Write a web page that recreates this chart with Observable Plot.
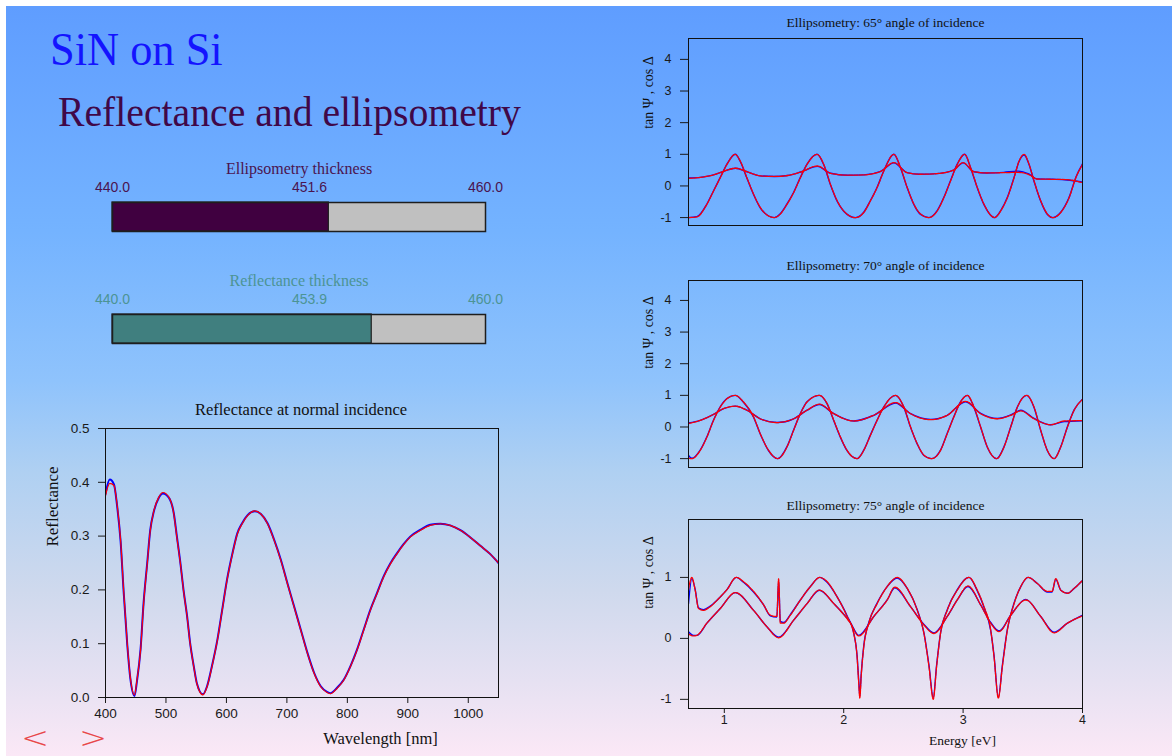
<!DOCTYPE html>
<html>
<head>
<meta charset="utf-8">
<script src="https://cdn.jsdelivr.net/npm/d3@7"></script>
<script src="https://cdn.jsdelivr.net/npm/@observablehq/plot@0.6"></script>
<style>
html,body{margin:0;padding:0;background:#fff;}
#page{position:relative;width:1172px;height:756px;overflow:hidden;background:#fff;}
#bg{position:absolute;left:6px;top:6px;right:0;bottom:0;
  background:linear-gradient(to bottom,#5f9dff 0%,#74b3ff 30%,#8fc3fc 50%,#afd0f2 62%,#cfd9ed 78%,#e6e1f2 90%,#fbe8f6 100%);}
.abs{position:absolute;}
.abs svg{overflow:visible;}
.arrow{position:absolute;font:200 30px/30px 'DejaVu Sans';color:#e8484a;transform:scaleX(1.12);transform-origin:left top;}
</style>
</head>
<body>
<div id="page">
  <div id="bg"></div>
  <div class="abs" style="left:50px;top:27px;font:46px/1 'Liberation Serif';color:#1414ff;transform:scaleX(0.965);transform-origin:left top;white-space:nowrap">SiN on Si</div>
  <div class="abs" style="left:58px;top:91px;font:42px/1 'Liberation Serif';color:#400848;transform:scaleX(0.945);transform-origin:left top;white-space:nowrap">Reflectance and ellipsometry</div>
  <div class="abs" id="thickE" style="left:60px;top:150px"></div>
  <div class="abs" id="thickR" style="left:60px;top:262px"></div>
  <div class="abs" id="refl" style="left:20px;top:395px"></div>
  <div class="abs" id="e65" style="left:620px;top:8px"></div>
  <div class="abs" id="e70" style="left:620px;top:250px"></div>
  <div class="abs" id="e75" style="left:620px;top:490px"></div>
  <div class="arrow" style="left:21px;top:723px">&lt;</div>
  <div class="arrow" style="left:79px;top:723px">&gt;</div>
</div>
<script>
// ---------- data ----------
const thicknessRange = [440, 460];
const ellipsometryThickness = 451.6;
const reflectanceThickness = 453.9;

const reflWavelength = [400,407,414,419,425,430,436,441,448,452,458,463,469,474,480,488,495,505,513,518,524,529,535,540,546,551,561,568,576,585,593,601,610,618,626,635,647,657,668,679,690,701,712,723,734,745,756,767,772,783,794,805,816,827,838,849,860,871,882,893,904,921,937,954,970,987,1003,1020,1036,1050];
const reflFit = [.375,.398,.394,.360,.292,.199,.100,.038,.005,.032,.088,.174,.248,.310,.347,.372,.381,.372,.341,.298,.248,.199,.150,.100,.057,.026,.005,.020,.057,.106,.162,.218,.267,.304,.323,.338,.347,.341,.323,.292,.255,.211,.168,.125,.082,.045,.020,.009,.007,.017,.032,.057,.088,.125,.162,.193,.224,.248,.267,.284,.298,.311,.320,.323,.320,.311,.298,.282,.267,.250];
const reflMeasured = [.378,.405,.396,.358,.290,.197,.098,.036,.003,.030,.090,.176,.250,.311,.346,.371,.379,.371,.342,.300,.249,.200,.151,.101,.058,.027,.006,.021,.058,.107,.163,.219,.268,.305,.324,.339,.346,.341,.324,.293,.256,.212,.169,.126,.083,.046,.021,.010,.008,.018,.033,.058,.089,.126,.163,.194,.225,.249,.268,.285,.299,.312,.321,.323,.320,.311,.298,.282,.267,.250];

// 65 degrees
const e65CosEnergy = [0.70,0.77,0.854,0.91,0.966,1.022,1.092,1.133,1.189,1.245,1.301,1.371,1.419,1.469,1.525,1.581,1.637,1.693,1.777,1.833,1.889,1.945,2.0,2.098,2.168,2.224,2.28,2.336,2.42,2.476,2.532,2.588,2.644,2.714,2.783,2.839,2.895,2.951,3.013,3.063,3.119,3.175,3.264,3.315,3.371,3.427,3.469,3.511,3.553,3.594,3.65,3.706,3.751,3.818,3.888,3.944,4.0];
const e65CosFit = [-1,-0.98,-0.58,-0.16,0.26,0.68,1.0,0.79,0.26,-0.26,-0.68,-0.95,-1,-0.89,-0.58,-0.21,0.26,0.68,1.0,0.68,0.05,-0.47,-0.79,-1,-0.84,-0.47,-0.05,0.47,1.0,0.58,-0.05,-0.58,-0.89,-1,-0.79,-0.37,0.16,0.68,1.0,0.58,-0.05,-0.58,-1,-0.79,-0.37,0.26,0.79,1.0,0.68,0.16,-0.47,-0.89,-1,-0.84,-0.37,0.26,0.68];
const e65CosMeasured = [-1,-0.97,-0.57,-0.15,0.27,0.69,1.0,0.78,0.25,-0.27,-0.69,-0.95,-1,-0.88,-0.57,-0.2,0.27,0.69,1.0,0.67,0.04,-0.48,-0.8,-1,-0.83,-0.46,-0.04,0.48,1.0,0.57,-0.06,-0.59,-0.9,-1,-0.78,-0.36,0.17,0.69,1.0,0.57,-0.06,-0.59,-1,-0.78,-0.36,0.27,0.78,0.98,0.67,0.15,-0.48,-0.9,-1,-0.83,-0.36,0.27,0.70];
const e65TanEnergy = [0.70,0.80,0.91,1.00,1.094,1.19,1.30,1.42,1.53,1.64,1.78,1.89,2.03,2.17,2.31,2.42,2.53,2.64,2.78,2.92,3.00,3.09,3.20,3.34,3.46,3.55,3.62,3.75,3.87,4.0];
const e65TanFit = [0.24,0.27,0.35,0.47,0.56,0.45,0.32,0.30,0.33,0.44,0.63,0.40,0.34,0.35,0.46,0.74,0.42,0.37,0.39,0.50,0.74,0.45,0.41,0.42,0.43,0.36,0.22,0.21,0.20,0.10];
const e65TanMeasured = [0.25,0.27,0.35,0.47,0.56,0.45,0.32,0.30,0.33,0.44,0.62,0.40,0.34,0.35,0.46,0.73,0.42,0.37,0.39,0.50,0.73,0.45,0.41,0.43,0.47,0.38,0.22,0.21,0.19,0.12];

// 70 degrees
const e70CosEnergy = [0.70,0.728,0.798,0.854,0.91,0.966,1.022,1.092,1.161,1.245,1.301,1.371,1.447,1.525,1.581,1.637,1.693,1.796,1.861,1.917,1.973,2.028,2.112,2.168,2.224,2.28,2.336,2.434,2.504,2.56,2.616,2.672,2.736,2.811,2.867,2.923,2.979,3.035,3.091,3.147,3.203,3.281,3.343,3.399,3.455,3.533,3.594,3.65,3.706,3.762,3.818,3.874,3.93,4.0];
const e70CosFit = [-0.98,-1,-0.74,-0.32,0.21,0.63,0.89,1.0,0.79,0.32,-0.21,-0.74,-1,-0.63,-0.1,0.42,0.79,1.0,0.74,0.21,-0.32,-0.74,-1,-0.74,-0.26,0.21,0.63,1.0,0.63,0,-0.53,-0.89,-1,-0.74,-0.21,0.32,0.79,1.0,0.63,0,-0.63,-1,-0.63,0,0.63,1.0,0.63,-0.1,-0.74,-1,-0.63,0,0.53,0.87];
const e70CosMeasured = [-0.9,-0.99,-0.73,-0.31,0.22,0.64,0.9,1.0,0.78,0.31,-0.22,-0.75,-1,-0.62,-0.09,0.43,0.8,1.0,0.73,0.2,-0.33,-0.75,-1,-0.73,-0.25,0.22,0.64,1.0,0.62,-0.01,-0.54,-0.9,-1,-0.73,-0.2,0.33,0.8,1.0,0.62,-0.01,-0.64,-1,-0.62,0.01,0.64,1.0,0.62,-0.11,-0.75,-1,-0.62,0.01,0.54,0.88];
const e70TanEnergy = [0.70,0.798,0.91,0.994,1.092,1.189,1.301,1.441,1.581,1.693,1.796,1.917,2.084,2.252,2.434,2.56,2.728,2.867,3.021,3.147,3.287,3.399,3.483,3.594,3.734,3.846,4.0];
const e70TanFit = [0.11,0.21,0.40,0.58,0.66,0.53,0.26,0.14,0.26,0.53,0.72,0.42,0.19,0.37,0.77,0.42,0.23,0.37,0.81,0.42,0.26,0.37,0.51,0.26,0.07,0.19,0.20];
const e70TanMeasured = [0.13,0.21,0.40,0.58,0.66,0.53,0.26,0.14,0.26,0.53,0.71,0.42,0.19,0.37,0.76,0.42,0.24,0.37,0.80,0.43,0.27,0.38,0.53,0.27,0.07,0.17,0.20];

// 75 degrees
const e75UpperEnergy = [0.70,0.728,0.756,0.784,0.826,0.882,0.966,1.022,1.10,1.161,1.245,1.329,1.385,1.44,1.455,1.469,1.497,1.553,1.637,1.721,1.799,1.861,1.945,2.028,2.084,2.112,2.126,2.135,2.146,2.168,2.21,2.28,2.364,2.448,2.532,2.616,2.672,2.714,2.75,2.778,2.811,2.867,2.951,3.049,3.119,3.175,3.231,3.259,3.295,3.329,3.371,3.427,3.483,3.544,3.622,3.706,3.745,3.776,3.818,3.874,3.93,4.0];
const e75UpperFit = [0.80,1.0,0.79,0.49,0.46,0.52,0.68,0.80,1.0,0.93,0.77,0.55,0.38,0.36,0.98,0.25,0.25,0.38,0.63,0.85,1.0,0.93,0.68,0.36,0.08,-0.3,-0.74,-0.98,-0.63,-0.14,0.25,0.57,0.85,1.0,0.82,0.46,0.08,-0.46,-1.0,-0.46,0.08,0.46,0.79,1.0,0.79,0.52,0.14,-0.3,-0.98,-0.46,0.14,0.57,0.85,1.0,0.9,0.77,0.77,0.98,0.79,0.74,0.82,0.95];
const e75UpperMeasured = [0.57,0.98,0.80,0.50,0.47,0.53,0.68,0.80,1.0,0.92,0.76,0.55,0.37,0.35,0.95,0.28,0.26,0.39,0.63,0.85,1.0,0.92,0.68,0.37,0.09,-0.28,-0.7,-0.95,-0.6,-0.12,0.26,0.58,0.85,0.99,0.82,0.47,0.09,-0.44,-0.97,-0.44,0.09,0.47,0.8,1.0,0.78,0.51,0.13,-0.28,-0.97,-0.44,0.15,0.58,0.85,1.0,0.9,0.76,0.76,0.97,0.79,0.74,0.82,0.95];
const e75LowerEnergy = [0.70,0.742,0.77,0.854,0.966,1.092,1.245,1.357,1.455,1.581,1.693,1.796,1.917,2.056,2.126,2.252,2.364,2.428,2.56,2.672,2.755,2.867,2.951,3.041,3.147,3.231,3.301,3.399,3.525,3.65,3.762,3.874,4.0];
const e75LowerFit = [0.07,0.04,0.05,0.25,0.49,0.75,0.46,0.19,0.01,0.30,0.57,0.79,0.57,0.25,0.04,0.36,0.63,0.84,0.52,0.22,0.08,0.36,0.63,0.86,0.55,0.25,0.11,0.38,0.63,0.36,0.09,0.25,0.37];
const e75LowerMeasured = [0.11,0.05,0.05,0.25,0.49,0.75,0.46,0.19,0.02,0.30,0.57,0.79,0.57,0.26,0.05,0.36,0.63,0.83,0.52,0.23,0.09,0.36,0.63,0.85,0.55,0.26,0.12,0.38,0.64,0.36,0.10,0.25,0.38];

// ---------- helpers ----------
const rows = (xs, ys) => xs.map((x, i) => ({x, y: ys[i]}));
const fmtTick = d => (d < 0 ? "-" + Math.abs(d) : String(d));
const BLUE = "#0000ff", RED = "#ff0000";
const label = (txt, opts) => Plot.text([txt], {text: d => d, textAnchor: "middle", lineAnchor: "middle", fill: "#111", ...opts});

function thicknessPanel(el, {title, value, fillColor, labelColor, titleColor}) {
  const [lo, hi] = thicknessRange;
  const chart = Plot.plot({
    width: 480, height: 90,
    marginLeft: 52, marginRight: 55, marginTop: 52, marginBottom: 9,
    style: {background: "transparent", overflow: "visible"},
    x: {domain: thicknessRange, axis: null},
    marks: [
      Plot.barX([{a: lo, b: hi}], {x1: "a", x2: "b", fill: "#c0c0c0"}),
      Plot.barX([{a: lo, b: value}], {x1: "a", x2: "b", fill: fillColor, stroke: "#1e1e1e", strokeWidth: 1.2}),
      Plot.frame({stroke: "#1e1e1e", strokeWidth: 1.5}),
      label(title, {frameAnchor: "top", dy: -34, fill: titleColor, fontFamily: "Liberation Serif", fontSize: 16}),
      Plot.text([lo, hi], {x: d => d, frameAnchor: "top", text: d => d.toFixed(1), textAnchor: "middle", lineAnchor: "middle", dy: -15, fill: labelColor, fontFamily: "Liberation Sans", fontSize: 14}),
      Plot.text([value], {frameAnchor: "top", text: d => d.toFixed(1), textAnchor: "middle", lineAnchor: "middle", dx: 10.5, dy: -15, fill: labelColor, fontFamily: "Liberation Sans", fontSize: 14})
    ]
  });
  document.getElementById(el).appendChild(chart);
}

thicknessPanel("thickE", {title: "Ellipsometry thickness", value: ellipsometryThickness, fillColor: "#400040", labelColor: "#4a1450", titleColor: "#4a1450"});
thicknessPanel("thickR", {title: "Reflectance thickness", value: reflectanceThickness, fillColor: "#407f7f", labelColor: "#4c9494", titleColor: "#4c9494"});

// Reflectance plot
{
  const chart = Plot.plot({
    width: 500, height: 360,
    marginLeft: 85, marginRight: 22, marginTop: 33, marginBottom: 58,
    style: {background: "transparent", overflow: "visible", fontFamily: "Liberation Sans", fontSize: "13.5px", color: "#1a1a1a"},
    x: {domain: [400, 1050], ticks: [400, 500, 600, 700, 800, 900, 1000], tickFormat: d => String(d), tickSize: 6, tickPadding: 5, label: null},
    y: {domain: [0, 0.5], ticks: [0, 0.1, 0.2, 0.3, 0.4, 0.5], tickFormat: d3.format(".1f"), tickSize: 7, tickPadding: 9, label: null},
    marks: [
      Plot.lineY(rows(reflWavelength, reflMeasured), {x: "x", y: "y", stroke: BLUE, strokeWidth: 2, curve: "monotone-x", clip: true}),
      Plot.lineY(rows(reflWavelength, reflFit), {x: "x", y: "y", stroke: RED, strokeWidth: 1.2, curve: "monotone-x", clip: true}),
      Plot.frame({stroke: "#111"}),
      label("Reflectance at normal incidence", {frameAnchor: "top", dx: -1, dy: -19, fontFamily: "Liberation Serif", fontSize: 16.5}),
      label("Reflectance", {frameAnchor: "left", dx: -53, dy: -56.5, rotate: -90, fontFamily: "Liberation Serif", fontSize: 17}),
      label("Wavelength [nm]", {frameAnchor: "bottom", dx: 78.5, dy: 41, fontFamily: "Liberation Serif", fontSize: 16.5})
    ]
  });
  document.getElementById("refl").appendChild(chart);
}

// Ellipsometry panels
function ellipPanel(el, {title, cosE, cosFit, cosMeas, tanE, tanFit, tanMeas, yDomain, yTicks, height, mt, mb, xAxis, titleDy, labelDy}) {
  const marks = [
    Plot.lineY(rows(tanE, tanMeas), {x: "x", y: "y", stroke: BLUE, strokeWidth: 1.4, curve: "monotone-x", clip: true}),
    Plot.lineY(rows(cosE, cosMeas), {x: "x", y: "y", stroke: BLUE, strokeWidth: 1.4, curve: "monotone-x", clip: true}),
    Plot.lineY(rows(tanE, tanFit), {x: "x", y: "y", stroke: RED, strokeWidth: 1.3, strokeDasharray: "4,1.2", curve: "monotone-x", clip: true}),
    Plot.lineY(rows(cosE, cosFit), {x: "x", y: "y", stroke: RED, strokeWidth: 1.3, strokeDasharray: "4,1.2", curve: "monotone-x", clip: true}),
    Plot.frame({stroke: "#111"}),
    label(title, {frameAnchor: "top", dy: titleDy, fontFamily: "Liberation Serif", fontSize: 13.5}),
    label("tan Ψ , cos Δ", {frameAnchor: "left", dx: -40, dy: labelDy, rotate: -90, fontFamily: "Liberation Serif", fontSize: 14})
  ];
  if (xAxis) marks.push(label("Energy [eV]", {frameAnchor: "bottom", dx: 77, dy: 32, fontFamily: "Liberation Serif", fontSize: 13.5}));
  const chart = Plot.plot({
    width: 480, height,
    marginLeft: 68, marginRight: 18, marginTop: mt, marginBottom: mb,
    style: {background: "transparent", overflow: "visible", fontFamily: "Liberation Sans", fontSize: "12.5px", color: "#1a1a1a"},
    x: xAxis ? {domain: [0.7, 4], ticks: [1, 2, 3, 4], tickFormat: d => String(d), tickSize: 5, tickPadding: 2, label: null} : {domain: [0.7, 4], axis: null},
    y: {domain: yDomain, ticks: yTicks, tickFormat: fmtTick, tickSize: 8, tickPadding: 9, label: null},
    marks
  });
  document.getElementById(el).appendChild(chart);
}

ellipPanel("e65", {title: "Ellipsometry: 65° angle of incidence", cosE: e65CosEnergy, cosFit: e65CosFit, cosMeas: e65CosMeasured, tanE: e65TanEnergy, tanFit: e65TanFit, tanMeas: e65TanMeasured,
  yDomain: [-1.25, 4.66], yTicks: [-1, 0, 1, 2, 3, 4], height: 232, mt: 30, mb: 15, xAxis: false, titleDy: -16, labelDy: -39.5});
ellipPanel("e70", {title: "Ellipsometry: 70° angle of incidence", cosE: e70CosEnergy, cosFit: e70CosFit, cosMeas: e70CosMeasured, tanE: e70TanEnergy, tanFit: e70TanFit, tanMeas: e70TanMeasured,
  yDomain: [-1.28, 4.63], yTicks: [-1, 0, 1, 2, 3, 4], height: 232, mt: 30, mb: 15, xAxis: false, titleDy: -15, labelDy: -41.5});
ellipPanel("e75", {title: "Ellipsometry: 75° angle of incidence", cosE: e75UpperEnergy, cosFit: e75UpperFit, cosMeas: e75UpperMeasured, tanE: e75LowerEnergy, tanFit: e75LowerFit, tanMeas: e75LowerMeasured,
  yDomain: [-1.15, 1.95], yTicks: [-1, 0, 1], height: 260, mt: 29, mb: 42, xAxis: true, titleDy: -14, labelDy: -41.5});
</script>
</body>
</html>
